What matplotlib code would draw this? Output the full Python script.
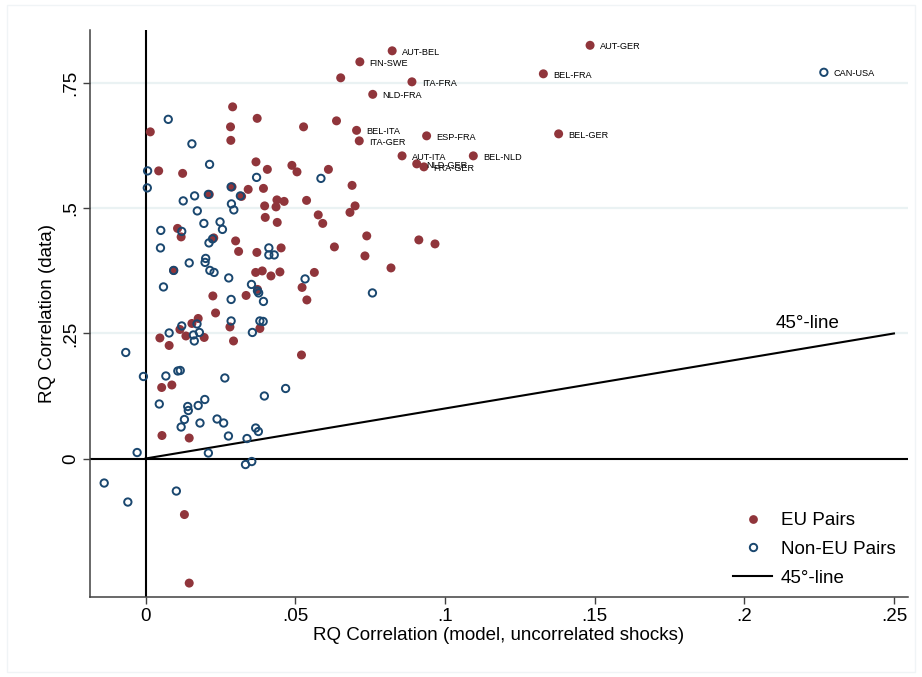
import matplotlib
matplotlib.use("Agg")
from matplotlib import pyplot as plt
from matplotlib.lines import Line2D
from matplotlib.patches import Rectangle

plt.rcParams['font.family'] = ['Liberation Sans', 'DejaVu Sans']

# labelled EU pairs
eu_labels = ["AUT-BEL", "FIN-SWE", "AUT-GER", "BEL-FRA", "ITA-FRA", "NLD-FRA", "BEL-ITA",
             "ITA-GER", "ESP-FRA", "BEL-GER", "AUT-ITA", "BEL-NLD", "NLD-GER", "FRA-GER"]
eu_lab_x = [0.0824, 0.0716, 0.1485, 0.1329, 0.0890, 0.0759, 0.0705,
            0.0714, 0.0939, 0.1380, 0.0857, 0.1095, 0.0906, 0.0930]
eu_lab_y = [0.815, 0.793, 0.826, 0.769, 0.753, 0.728, 0.656,
            0.635, 0.645, 0.649, 0.605, 0.605, 0.589, 0.583]

# other EU pairs
eu_x = [0.0652, 0.0291, 0.0373, 0.0284, 0.0528, 0.0638, 0.0016, 0.0285, 0.0369, 0.0044,
        0.0124, 0.0407, 0.0489, 0.0506, 0.0611, 0.0690, 0.0700, 0.0683, 0.0394, 0.0343,
        0.0321, 0.0289, 0.0213, 0.0398, 0.0439, 0.0463, 0.0538, 0.0436, 0.0400, 0.0440,
        0.0577, 0.0592, 0.0739, 0.0107, 0.0119, 0.0228, 0.0301, 0.0311, 0.0372, 0.0453,
        0.0631, 0.0733, 0.0094, 0.0368, 0.0390, 0.0419, 0.0449, 0.0564, 0.0523, 0.0539,
        0.0225, 0.0336, 0.0374, 0.0234, 0.0176, 0.0155, 0.0115, 0.0135, 0.0048, 0.0079,
        0.0196, 0.0282, 0.0294, 0.0382, 0.0521, 0.0054, 0.0088, 0.0055, 0.0146, 0.0130,
        0.0146, 0.0820, 0.0913, 0.0967]
eu_y = [0.761, 0.703, 0.680, 0.663, 0.663, 0.675, 0.653, 0.636, 0.593, 0.575,
        0.570, 0.578, 0.586, 0.573, 0.578, 0.546, 0.505, 0.492, 0.540, 0.538,
        0.524, 0.543, 0.528, 0.505, 0.517, 0.514, 0.516, 0.503, 0.482, 0.472,
        0.487, 0.470, 0.445, 0.460, 0.443, 0.441, 0.435, 0.414, 0.412, 0.421,
        0.423, 0.405, 0.376, 0.372, 0.375, 0.365, 0.373, 0.372, 0.342, 0.317,
        0.325, 0.326, 0.338, 0.291, 0.280, 0.270, 0.258, 0.245, 0.241, 0.226,
        0.242, 0.263, 0.235, 0.260, 0.207, 0.142, 0.147, 0.046, 0.041, -0.112,
        -0.249, 0.381, 0.437, 0.429]

# non-EU pairs
neu_label = "CAN-USA"
neu_lab_x = 0.2266
neu_lab_y = 0.772
neu_x = [0.0076, 0.0155, 0.0214, 0.0007, 0.0006, 0.0371, 0.0586, 0.0286, 0.0210, 0.0126,
         0.0164, 0.0317, 0.0287, 0.0295, 0.0173, 0.0195, 0.0249, 0.0257, 0.0051, 0.0121,
         0.0212, 0.0224, 0.0050, 0.0146, 0.0201, 0.0199, 0.0215, 0.0229, 0.0278, 0.0094,
         0.0412, 0.0412, 0.0430, 0.0533, 0.0060, 0.0354, 0.0374, 0.0378, 0.0394, 0.0286,
         0.0121, 0.0172, 0.0079, 0.0160, 0.0180, 0.0163, 0.0286, 0.0357, 0.0382, 0.0393,
         0.0758, -0.0007, -0.0066, 0.0068, 0.0108, 0.0116, 0.0265, 0.0397, 0.0468, 0.0046,
         0.0198, 0.0176, 0.0141, 0.0143, 0.0130, 0.0119, 0.0182, 0.0239, 0.0261, 0.0277,
         0.0339, 0.0368, 0.0377, -0.0028, 0.0210, 0.0334, 0.0355, -0.0138, -0.0059, 0.0103]
neu_y = [0.678, 0.629, 0.588, 0.575, 0.541, 0.562, 0.560, 0.543, 0.528, 0.515,
         0.525, 0.525, 0.509, 0.497, 0.495, 0.470, 0.473, 0.458, 0.456, 0.454,
         0.431, 0.439, 0.421, 0.391, 0.400, 0.392, 0.376, 0.372, 0.361, 0.376,
         0.421, 0.407, 0.407, 0.359, 0.343, 0.348, 0.335, 0.331, 0.314, 0.318,
         0.265, 0.269, 0.251, 0.247, 0.252, 0.235, 0.275, 0.252, 0.275, 0.274,
         0.331, 0.164, 0.212, 0.165, 0.175, 0.176, 0.161, 0.125, 0.140, 0.109,
         0.118, 0.106, 0.104, 0.096, 0.078, 0.063, 0.071, 0.079, 0.071, 0.045,
         0.040, 0.061, 0.054, 0.012, 0.011, -0.012, -0.006, -0.049, -0.087, -0.065]

line45 = [0, 0.25]

maroon = '#90353b'
navy = '#1a476f'
grid_col = '#eaf2f3'

fig = plt.figure(figsize=(9.22, 6.77), dpi=100)
fig.patches.append(Rectangle((7 / 922, 5 / 677), 908 / 922, 667 / 677, transform=fig.transFigure,
                             fill=False, edgecolor='#f0f4f6', lw=1))
ax = fig.add_axes([90 / 922, 1 - 597.3 / 677, 818 / 922, 567.3 / 677])

ax.set_xlim(-0.01854, 0.2547)
ax.set_ylim(-0.2774, 0.8566)

for g in [0.25, 0.5, 0.75]:
    ax.axhline(g, color=grid_col, lw=1.6, zorder=0)
ax.axhline(0, color='black', lw=1.5, zorder=1)
ax.axvline(0, color='black', lw=1.5, zorder=1)
ax.plot(line45, line45, color='black', lw=1.5, zorder=1)
ax.text(0.2317, 0.27, "45°-line", fontsize=13.5, ha='right', va='center')

ax.scatter(eu_x + eu_lab_x, eu_y + eu_lab_y, s=42, color=maroon, edgecolors='none', zorder=3)
ax.scatter(neu_x + [neu_lab_x], neu_y + [neu_lab_y], s=28, facecolors='none', edgecolors=navy,
           linewidths=1.4, zorder=4)

for lab, x, y in zip(eu_labels + [neu_label], eu_lab_x + [neu_lab_x], eu_lab_y + [neu_lab_y]):
    ax.annotate(lab, (x, y), xytext=(7, -1), textcoords='offset points', fontsize=6.6,
                va='center', ha='left')

for side in ['top', 'right']:
    ax.spines[side].set_visible(False)
for side in ['left', 'bottom']:
    ax.spines[side].set_color('#404040')
    ax.spines[side].set_linewidth(1.1)

ax.set_xticks([0, 0.05, 0.1, 0.15, 0.2, 0.25])
ax.set_xticklabels(["0", ".05", ".1", ".15", ".2", ".25"])
ax.set_yticks([0, 0.25, 0.5, 0.75])
ax.set_yticklabels(["0", ".25", ".5", ".75"], rotation=90, va='center')
ax.tick_params(axis='both', length=5, width=1, color='#404040', labelsize=13.5, pad=3)

ax.set_xlabel("RQ Correlation (model, uncorrelated shocks)", fontsize=13.5, labelpad=1)
ax.set_ylabel("RQ Correlation (data)", fontsize=13.5, labelpad=4)

handles = [
    Line2D([], [], marker='o', linestyle='none', color=maroon, markersize=6.3, markeredgewidth=0),
    Line2D([], [], marker='o', linestyle='none', markerfacecolor='none', markeredgecolor=navy,
           markersize=5.3, markeredgewidth=1.4),
    Line2D([], [], color='black', lw=1.5),
]
ax.legend(handles, ["EU Pairs", "Non-EU Pairs", "45°-line"], loc='upper left',
          bbox_to_anchor=(733 / 922, 1 - 512 / 677), bbox_transform=fig.transFigure,
          frameon=False, fontsize=13.5, handlelength=2.1, handletextpad=0.45,
          labelspacing=0.62, borderpad=0, borderaxespad=0)

fig.savefig("out.png", dpi=100)
